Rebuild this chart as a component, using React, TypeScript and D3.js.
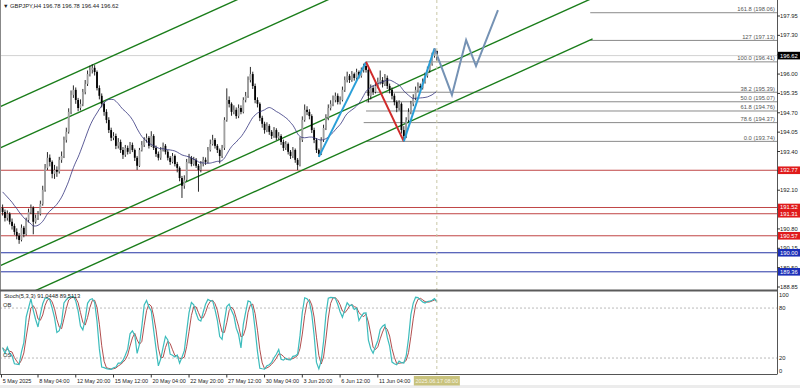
import React from "react";
import * as d3 from "d3";

const W = 800;
const H = 388;

// ---------- data ----------
const firstOpen = 191.5;
const closes = [
  191.37,191.17,191.31,191.04,190.90,190.70,190.57,190.43,190.84,190.63,
  191.10,191.37,191.51,191.04,191.17,191.31,191.64,192.11,192.85,193.19,
  193.05,192.65,192.78,192.72,193.12,193.25,193.79,194.06,194.73,195.30,
  195.47,195.13,194.86,195.00,195.40,195.67,196.00,196.14,196.21,196.07,
  195.53,195.27,195.00,194.73,194.46,194.12,193.86,193.92,193.59,193.72,
  193.45,193.29,193.52,193.39,193.62,193.45,193.19,192.92,193.45,193.62,
  193.79,193.86,193.59,193.92,193.52,193.32,193.19,193.45,193.59,193.39,
  193.19,193.05,193.25,192.98,192.85,192.51,192.25,192.45,193.05,193.19,
  192.98,193.12,192.92,192.78,192.98,193.12,193.05,193.45,193.65,193.79,
  193.59,193.45,193.25,193.52,194.46,195.13,195.00,194.73,194.80,194.59,
  194.86,194.73,195.13,195.27,195.80,196.00,195.60,195.13,195.00,194.53,
  194.33,194.12,194.26,194.06,193.92,194.12,193.86,193.92,193.72,193.52,
  193.65,193.39,193.25,193.45,193.12,192.95,193.79,194.46,194.80,194.73,
  194.59,194.12,193.79,193.45,193.32,193.79,194.19,194.53,194.86,195.00,
  195.13,195.27,195.06,195.13,195.47,195.80,195.94,195.80,196.00,195.87,
  196.07,195.94,196.14,196.27,196.14,195.27,195.53,195.40,195.60,195.74,
  195.80,195.67,195.87,195.60,195.47,195.27,195.06,194.86,195.00,194.12,
  193.92,194.46,194.73,195.00,195.20,195.47,195.60,195.53,195.74,195.94,
  196.14,196.34,196.61,196.78,196.62,
];
const highs = [
  191.62,191.45,191.42,191.36,191.15,190.98,190.82,190.66,190.95,190.90,
  191.18,191.48,191.62,191.56,191.28,191.40,191.75,192.25,192.98,193.38,
  193.30,193.10,192.95,192.90,193.22,193.40,193.90,194.20,194.85,195.45,
  195.62,195.55,195.20,195.15,195.50,195.80,196.12,196.28,196.33,196.30,
  196.12,195.62,195.35,195.08,194.82,194.55,194.20,194.05,194.00,193.85,
  193.80,193.55,193.62,193.60,193.72,193.70,193.50,193.25,193.52,193.75,
  193.88,194.00,193.92,194.08,193.98,193.60,193.40,193.55,193.70,193.65,
  193.45,193.25,193.35,193.30,193.05,192.90,192.58,192.60,193.15,193.32,
  193.25,193.22,193.18,192.98,193.08,193.22,193.20,193.55,193.80,193.96,
  193.85,193.65,193.50,193.62,194.55,195.52,195.25,195.05,194.95,194.88,
  194.98,194.95,195.22,195.40,195.92,196.24,196.08,195.68,195.22,195.05,
  194.60,194.40,194.38,194.32,194.12,194.22,194.18,194.05,193.98,193.80,
  193.75,193.70,193.45,193.55,193.50,193.18,193.88,194.58,194.98,194.92,
  194.82,194.65,194.20,193.85,193.50,193.88,194.30,194.65,194.98,195.12,
  195.28,195.38,195.35,195.25,195.58,195.92,196.08,196.00,196.10,196.05,
  196.18,196.12,196.22,196.35,196.41,196.20,195.65,195.62,195.75,195.88,
  196.12,195.90,196.00,195.95,195.68,195.55,195.35,195.12,195.12,195.05,
  194.25,194.55,194.85,195.10,195.32,195.58,195.72,195.68,195.85,196.05,
  196.25,196.45,196.72,196.86,196.78,
];
const lows = [
  191.25,191.05,191.08,190.95,190.78,190.60,190.45,190.30,190.38,190.52,
  190.58,191.02,191.30,190.62,190.98,191.10,191.25,191.58,192.05,192.78,
  192.90,192.50,192.48,192.55,192.66,193.02,193.18,193.70,194.00,194.65,
  195.20,195.00,194.75,194.78,194.92,195.32,195.60,195.92,196.02,195.95,
  195.45,195.15,194.88,194.60,194.35,194.02,193.75,193.78,193.48,193.50,
  193.35,193.15,193.22,193.30,193.32,193.38,193.08,192.78,192.88,193.40,
  193.55,193.70,193.50,193.55,193.45,193.22,193.10,193.12,193.40,193.30,
  193.10,192.95,193.00,192.90,192.70,192.40,191.84,192.15,192.40,193.00,
  192.90,192.92,192.85,192.05,192.70,192.90,192.95,193.00,193.40,193.60,
  193.50,193.35,193.00,193.18,193.45,194.40,194.88,194.60,194.65,194.50,
  194.52,194.65,194.68,195.05,195.20,195.72,195.50,195.02,194.88,194.42,
  194.20,194.00,194.05,193.96,193.82,193.86,193.78,193.80,193.62,193.42,
  193.45,193.30,193.15,193.18,193.02,192.78,192.90,193.72,194.40,194.62,
  194.48,194.02,193.68,193.35,193.22,193.28,193.72,194.12,194.45,194.78,
  194.92,195.05,194.98,194.98,195.08,195.40,195.72,195.70,195.74,195.78,
  195.80,195.85,195.88,196.05,196.05,195.05,195.15,195.30,195.35,195.52,
  195.65,195.55,195.60,195.50,195.35,195.15,194.95,194.72,194.78,194.00,
  193.74,193.85,194.38,194.65,194.92,195.12,195.40,195.42,195.48,195.68,
  195.88,196.05,196.28,196.55,196.44,
];
// closes before the first visible bar (only used to seed the moving average)
const preCloses = [
  192.9,193.0,192.8,192.7,192.9,192.6,192.7,192.8,192.6,192.5,192.7,192.8,192.5,
  191.2,190.8,190.6,190.5,190.5,190.4,
];
const maPeriod = 20;

const xLabels = ["5 May 2025","8 May 04:00","12 May 20:00","15 May 12:00","20 May 04:00","22 May 20:00","27 May 12:00","30 May 04:00","3 Jun 20:00","6 Jun 12:00","11 Jun 04:00"];
const xLabelBars = [0,15,31,47,63,79,95,111,127,143,159];
const currentBar = 184;
const currentLabel = "2025.06.17 08:00";

const priceTicks = [188.85,189.50,190.15,190.80,191.45,192.10,192.75,193.40,194.05,194.70,195.35,196.00,196.65,197.30,197.95];
const bidPrice = 196.62;
const redLevels = [192.77,191.52,191.31,190.57];
const blueLevels = [190.00,189.36];

const fibNames = ["161.8","127","100.0","38.2","50.0","61.8","78.6","0.0"];
const fibPrices = [198.06,197.13,196.41,195.39,195.07,194.76,194.37,193.74];
const fibStartBars = [249,249,154,154,154,154,153,154];

// parallel channel lines: price at bar 0 and at bar 250
const channelStart = [194.94,193.56,189.60,188.23];
const channelEnd = [203.89,202.51,198.55,197.18];

const zigBlueA: [number, number][] = [[134,193.22],[154,196.41]];
const zigRed: [number, number][] = [[154,196.41],[170,193.74]];
const zigBlueB: [number, number][] = [[170,193.74],[183,196.86]];
const projection: [number, number][] = [[183,196.86],[190.4,195.30],[196.4,197.14],[200.6,196.27],[209.9,198.15]];

const stochTicks = [100,80,20,0];
const stochTitle = "Stoch(5,3,3) 91.0448 89.5113";
const title = "GBPJPY,H4  196.78 196.78 196.44 196.62";

// ---------- geometry ----------
const plotRight = 777;
const mainBottom = 290;
const stochTop = 291;
const stochBottom = 374.5;

const xs = d3.scaleLinear().domain([0, 1]).range([2.6, 4.96]);
const ys = d3.scaleLinear().domain([188.85, 197.95]).range([287, 16]);
const ss = d3.scaleLinear().domain([0, 100]).range([374.7, 291.4]);

const FONT = "'Liberation Sans', Arial, sans-serif";
const AX = 5.8;

function computeMA(): [number, number][] {
  const all = preCloses.concat(closes);
  const off = preCloses.length;
  const out: [number, number][] = [];
  for (let i = 0; i < closes.length; i++) {
    const end = i + off;
    const start = Math.max(0, end - maPeriod + 1);
    out.push([i, d3.mean(all.slice(start, end + 1)) as number]);
  }
  return out;
}

function computeStoch() {
  const n = closes.length;
  const num: number[] = [];
  const den: number[] = [];
  for (let i = 0; i < n; i++) {
    const s = Math.max(0, i - 4);
    const lo = d3.min(lows.slice(s, i + 1)) as number;
    const hi = d3.max(highs.slice(s, i + 1)) as number;
    num.push(closes[i] - lo);
    den.push(hi - lo);
  }
  const K: number[] = [];
  for (let i = 0; i < n; i++) {
    const s = Math.max(0, i - 2);
    const a = d3.sum(num.slice(s, i + 1));
    const b = d3.sum(den.slice(s, i + 1));
    K.push(b === 0 ? 50 : (a / b) * 100);
  }
  const D: number[] = [];
  for (let i = 0; i < n; i++) {
    const s = Math.max(0, i - 2);
    D.push(d3.mean(K.slice(s, i + 1)) as number);
  }
  return { K, D };
}

export default function App() {
  const opens = closes.map((c, i) => (i === 0 ? firstOpen : closes[i - 1]));
  const ma = computeMA();
  const { K, D } = computeStoch();

  const priceLine = d3.line<[number, number]>().x((d) => xs(d[0])).y((d) => ys(d[1]));
  const maLine = d3.line<[number, number]>().x((d) => xs(d[0])).y((d) => ys(d[1])).curve(d3.curveMonotoneX);
  const stLine = d3.line<number>().x((_, i) => xs(i)).y((d) => ss(d));

  const rightLabel = (p: number, bg: string, key: string) => (
    <g key={key}>
      <rect x={778} y={ys(p) - 3.8} width={22} height={7.6} fill={bg} />
      <text x={780} y={ys(p) + 2} fontSize={AX} fill="#ffffff" fontFamily={FONT}>
        {p.toFixed(2)}
      </text>
    </g>
  );

  return (
    <svg
      width={W}
      height={H}
      style={{ position: "absolute", left: 0, top: 0, background: "#fff" }}
      xmlns="http://www.w3.org/2000/svg"
    >
      <defs>
        <clipPath id="mainClip">
          <rect x={0} y={0} width={plotRight} height={mainBottom} />
        </clipPath>
        <clipPath id="stochClip">
          <rect x={0} y={stochTop} width={plotRight} height={stochBottom - stochTop} />
        </clipPath>
      </defs>
      <rect x={0} y={0} width={W} height={H} fill="#ffffff" />
      <rect x={0} y={385} width={W} height={3} fill="#ececec" />

      {/* main panel */}
      <g clipPath="url(#mainClip)">
        {redLevels.map((p, i) => (
          <line key={"r" + i} x1={0} x2={plotRight} y1={ys(p)} y2={ys(p)} stroke="#c04545" strokeWidth={1} />
        ))}
        {blueLevels.map((p, i) => (
          <line key={"b" + i} x1={0} x2={plotRight} y1={ys(p)} y2={ys(p)} stroke="#2535a5" strokeWidth={1} />
        ))}
        <line x1={0} x2={plotRight} y1={ys(bidPrice)} y2={ys(bidPrice)} stroke="#d2d2d2" strokeWidth={1} />
        {fibPrices.map((p, i) => (
          <line key={"f" + i} x1={xs(fibStartBars[i])} x2={plotRight} y1={ys(p)} y2={ys(p)} stroke="#8a8a8a" strokeWidth={1} />
        ))}
        {channelStart.map((p, i) => (
          <line
            key={"c" + i}
            x1={xs(0) - 10}
            y1={ys(p) + ((ys(channelEnd[i]) - ys(p)) / (xs(250) - xs(0))) * -10}
            x2={xs(250)}
            y2={ys(channelEnd[i])}
            stroke="#1a7d1a"
            strokeWidth={1.4}
          />
        ))}
        {closes.map((c, i) => {
          const o = opens[i];
          const x = xs(i);
          const top = ys(Math.max(o, c));
          const bot = ys(Math.min(o, c));
          const bull = c >= o;
          return (
            <g key={"k" + i}>
              <line x1={x} x2={x} y1={ys(highs[i])} y2={ys(lows[i])} stroke="#111" strokeWidth={0.9} />
              <rect x={x - 0.9} y={top} width={1.8} height={Math.max(0.8, bot - top)} fill={bull ? "#a0a0a0" : "#000"} />
            </g>
          );
        })}
        <path d={maLine(ma) || ""} fill="none" stroke="#34347e" strokeWidth={0.8} />
        <path d={priceLine(zigBlueA) || ""} fill="none" stroke="#2a9fd8" strokeWidth={2} />
        <path d={priceLine(zigRed) || ""} fill="none" stroke="#d02a2a" strokeWidth={2} />
        <path d={priceLine(zigBlueB) || ""} fill="none" stroke="#2a9fd8" strokeWidth={2} />
        <path d={priceLine(projection) || ""} fill="none" stroke="#7592b4" strokeWidth={2} />
      </g>

      {/* stochastic panel */}
      <g clipPath="url(#stochClip)">
        {[80, 20].map((v) => (
          <line key={"sl" + v} x1={0} x2={plotRight} y1={ss(v)} y2={ss(v)} stroke="#a8a8a8" strokeWidth={0.8} strokeDasharray="2,2" />
        ))}
        <path d={stLine(D) || ""} fill="none" stroke="#a83a3a" strokeWidth={0.9} />
        <path d={stLine(K) || ""} fill="none" stroke="#3cbcbc" strokeWidth={1.2} />
      </g>

      {/* current time */}
      <line x1={xs(currentBar)} x2={xs(currentBar)} y1={0} y2={stochBottom} stroke="#c9c7a6" strokeWidth={1} strokeDasharray="3,3" />

      {/* frames */}
      <line x1={0.5} x2={0.5} y1={0} y2={stochBottom} stroke="#888" strokeWidth={1} />
      <rect x={0} y={mainBottom - 0.5} width={plotRight} height={2} fill="#5a5a5a" />
      <line x1={0} x2={plotRight} y1={stochBottom} y2={stochBottom} stroke="#555" strokeWidth={1} />
      <line x1={plotRight + 0.5} x2={plotRight + 0.5} y1={0} y2={stochBottom} stroke="#555" strokeWidth={1} />

      {/* right price axis */}
      {priceTicks.map((p, i) => (
        <g key={"pt" + i}>
          <line x1={plotRight} x2={plotRight + 3} y1={ys(p)} y2={ys(p)} stroke="#333" strokeWidth={1} />
          <text x={780} y={ys(p) + 2} fontSize={AX} fill="#222" fontFamily={FONT}>
            {p.toFixed(2)}
          </text>
        </g>
      ))}
      {redLevels.map((p, i) => rightLabel(p, "#e01b1b", "rl" + i))}
      {blueLevels.map((p, i) => rightLabel(p, "#1c2fb8", "bl" + i))}
      {rightLabel(bidPrice, "#000000", "bid")}

      {/* stoch axis */}
      {stochTicks.map((v) => (
        <text key={"st" + v} x={779} y={v === 100 ? ss(v) + 6 : v === 0 ? ss(v) - 1.5 : ss(v) + 2} fontSize={AX} fill="#222" fontFamily={FONT}>
          {v}
        </text>
      ))}
      <text x={3} y={ss(80) - 1.5} fontSize={AX} fill="#333" fontFamily={FONT}>OB</text>
      <text x={3} y={ss(20) - 1.5} fontSize={AX} fill="#333" fontFamily={FONT}>OS</text>
      <text x={4} y={298} fontSize={5.8} fill="#222" fontFamily={FONT}>{stochTitle}</text>

      {/* fib labels */}
      {fibPrices.map((p, i) => (
        <text key={"fl" + i} x={775} y={ys(p) - 1.5} fontSize={AX} fill="#555" textAnchor="end" fontFamily={FONT}>
          {`${fibNames[i]} (${p.toFixed(2)})`}
        </text>
      ))}

      {/* time axis */}
      {xLabels.map((t, i) => {
        const x = i === 0 ? 1.5 : xs(xLabelBars[i]);
        return (
          <g key={"xl" + i}>
            <line x1={x} x2={x} y1={stochBottom} y2={stochBottom + 3} stroke="#333" strokeWidth={1} />
            <text x={x + 1.2} y={383} fontSize={5.5} fill="#222" fontFamily={FONT}>{t}</text>
          </g>
        );
      })}
      <rect x={xs(currentBar) - 23} y={376} width={46} height={9.5} fill="#c8c27c" />
      <text x={xs(currentBar)} y={383} fontSize={5.5} fill="#f6f4e4" textAnchor="middle" fontFamily={FONT}>{currentLabel}</text>

      {/* title */}
      <text x={3} y={7.5} fontSize={5.6} fill="#222" fontFamily={FONT}>▼</text>
      <text x={10} y={7.5} fontSize={5.8} fill="#222" fontFamily={FONT}>{title}</text>
    </svg>
  );
}
